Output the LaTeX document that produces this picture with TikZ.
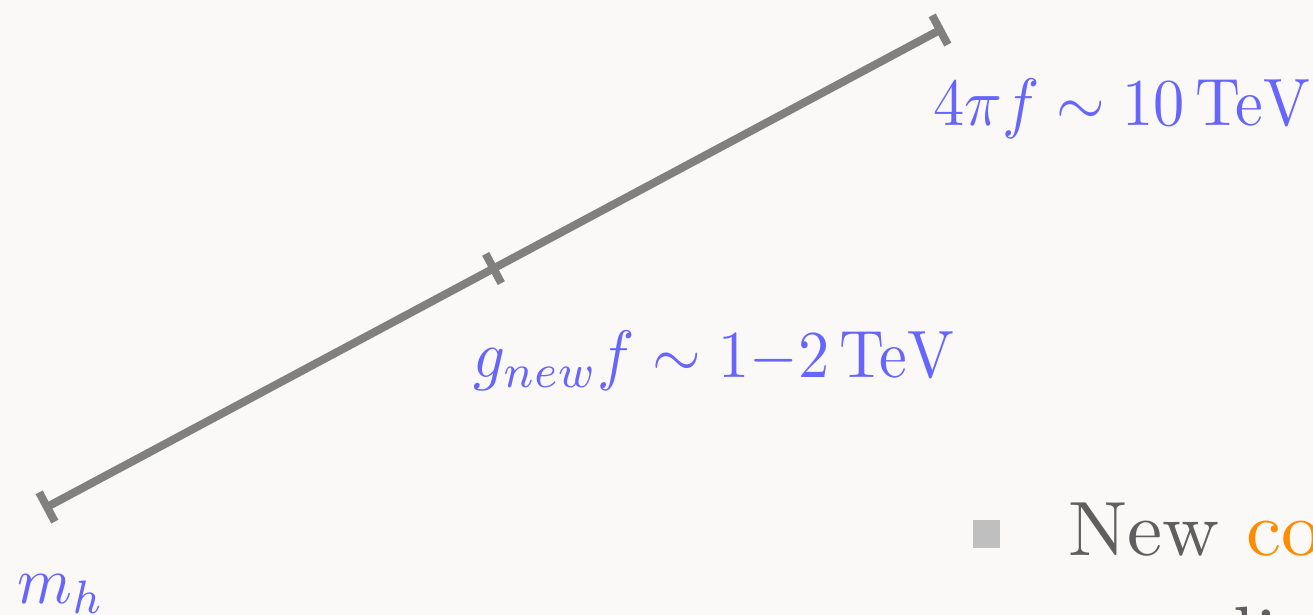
\documentclass[tikz,border=0pt]{standalone}
\usepackage{tikz}
\usetikzlibrary{calc}
\definecolor{slidebg}{HTML}{FAF9F7}
\definecolor{scalegray}{HTML}{808080}
\definecolor{labblue}{HTML}{6666FF}
\definecolor{textgray}{HTML}{5F5F5F}
\definecolor{bulletgray}{HTML}{BFBFBF}
\definecolor{hiorange}{HTML}{FF8C00}
\tikzset{
    scaleline/.style={
        line width=4pt, color=scalegray, line cap=butt
    },
    lab/.style={
        color=labblue, inner sep=0pt, anchor=base west,
        font=\fontsize{10}{12}\selectfont, xscale=3.12, yscale=3.35
    },
    bodytext/.style={
        color=textgray, inner sep=0pt, anchor=base west,
        font=\fontsize{10}{12}\selectfont, xscale=3.95, yscale=3.85
    }
}

\begin{document}
\begin{tikzpicture}[x=0.5pt,y=-0.5pt, line join=miter]

\useasboundingbox (0,0) rectangle (1313,615);
\fill[slidebg] (0,0) rectangle (1313,615);
\clip (0,0) rectangle (1313,615);

\def\tick{8.3pt}

% the scale, from m_h up to 4 pi f
\coordinate (mh) at (47,507);
\coordinate (top) at (940,30);
\coordinate (gnew) at ($(mh)!0.5!(top)$);

\draw[scaleline] (mh) -- (top);
\foreach \p/\q in {mh/top, gnew/top, top/mh} {
  \draw[scaleline] ($(\p)!\tick!90:(\q)$) -- ($(\p)!\tick!-90:(\q)$);
}

% labels
\node[lab] (lmh) at (16,603) {$m_h$};
\node[lab] (lgnew) at (472,377) {$g_{new}f\sim 1{-}2\,\mathrm{TeV}$};
\node[lab] (ltop) at (932,126) {$4\pi f\sim 10\,\mathrm{TeV}$};

% slide text on the right
\fill[bulletgray] (973,520) rectangle (1000,548);
\node[bodytext] (new) at (1067,555) {New \textcolor{hiorange}{co}};
\node[bodytext] (li) at (1232,660) {li};

\end{tikzpicture}
\end{document}
